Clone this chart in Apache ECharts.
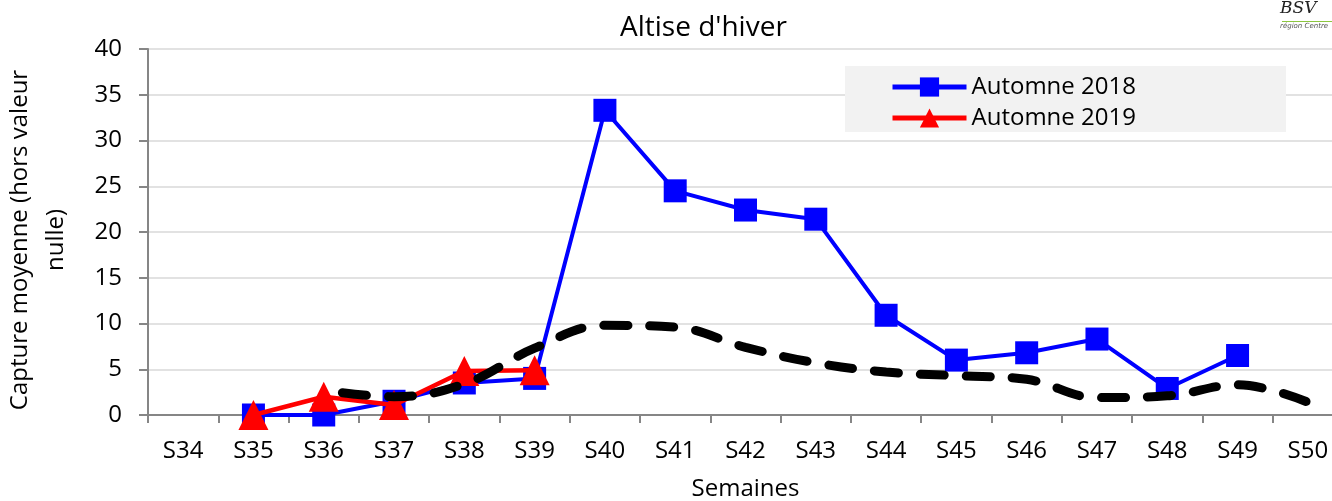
<!DOCTYPE html>
<html>
<head>
<meta charset="utf-8">
<script src="https://cdn.jsdelivr.net/npm/echarts@6/dist/echarts.min.js"></script>
<style>
html,body{margin:0;padding:0;background:#fff;}
#chart{width:1332px;height:501px;}
</style>
</head>
<body>
<div id="chart"></div>
<script>
const categories = ['S34','S35','S36','S37','S38','S39','S40','S41','S42','S43','S44','S45','S46','S47','S48','S49','S50'];
const automne2018 = [null, 0, 0, 1.5, 3.5, 4.0, 33.3, 24.5, 22.4, 21.4, 10.9, 6.0, 6.8, 8.3, 2.9, 6.5, null];
const automne2019 = [null, 0, 2.0, 1.1, 4.8, 4.9, null, null, null, null, null, null, null, null, null, null, null];
const moyenne = [null, null, 2.7, 2.0, 3.4, 7.3, 9.8, 9.6, 7.4, 5.7, 4.7, 4.3, 3.9, 1.9, 2.1, 3.3, 1.4];
const yTicks = {min: 0, max: 40, interval: 5};

const FONT = 'Open Sans';
const chart = echarts.init(document.getElementById('chart'));
chart.setOption({
  animation: false,
  backgroundColor: '#ffffff',
  textStyle: {fontFamily: FONT, color: '#000'},
  title: {
    text: "Altise d'hiver",
    left: 615, top: 9,
    textStyle: {fontFamily: FONT, fontSize: 28, fontWeight: 'normal', color: '#000'}
  },
  graphic: [
    {type: 'rect', z: 1, shape: {x: 845, y: 66, width: 441, height: 66}, style: {fill: '#f2f2f2'}},
    {type: 'text', z: 1, x: 38, y: 240, rotation: Math.PI / 2,
     style: {text: 'Capture moyenne (hors valeur\nnulle)', font: '24px "Open Sans"', fill: '#000',
             align: 'center', verticalAlign: 'middle', lineHeight: 36}},
    {type: 'text', z: 1, x: 1280, y: 0,
     style: {text: 'BSV', font: 'italic 17px "DejaVu Serif"', fill: '#222'}},
    {type: 'rect', z: 1, shape: {x: 1282, y: 21, width: 50, height: 1}, style: {fill: '#8cc63f'}},
    {type: 'text', z: 1, x: 1280, y: 23,
     style: {text: 'région Centre', font: 'italic 7px "DejaVu Sans"', fill: '#555'}}
  ],
  legend: {
    orient: 'vertical',
    left: 885, top: 69,
    itemWidth: 74, itemHeight: 24,
    itemGap: 5,
    data: ['Automne 2018', 'Automne 2019'],
    lineStyle: {width: 5},
    textStyle: {fontFamily: FONT, fontSize: 24, color: '#000', lineHeight: 26}
  },
  grid: {left: 148, top: 49, width: 1195, bottom: 86, containLabel: false, outerBoundsMode: 'none'},
  xAxis: {
    type: 'category',
    data: categories,
    boundaryGap: true,
    name: 'Semaines',
    nameLocation: 'middle',
    nameGap: 62,
    nameTextStyle: {fontFamily: FONT, fontSize: 24, color: '#000'},
    axisLine: {lineStyle: {color: '#868686', width: 2}},
    axisTick: {show: true, length: 8, lineStyle: {color: '#868686', width: 2}},
    axisLabel: {fontFamily: FONT, fontSize: 24, color: '#000', margin: 24, interval: 0}
  },
  yAxis: {
    type: 'value',
    min: yTicks.min, max: yTicks.max, interval: yTicks.interval,
    axisLine: {show: true, lineStyle: {color: '#868686', width: 2}},
    axisTick: {show: true, length: 9, lineStyle: {color: '#868686', width: 2}},
    axisLabel: {fontFamily: FONT, fontSize: 24, color: '#000', margin: 26},
    splitLine: {lineStyle: {color: '#d9d9d9', width: 1.5}}
  },
  series: [
    {
      name: 'Automne 2018', type: 'line', data: automne2018, z: 2,
      symbol: 'rect', symbolSize: 23,
      lineStyle: {color: '#0000ff', width: 4},
      itemStyle: {color: '#0000ff'},
      connectNulls: false
    },
    {
      name: 'Automne 2019', type: 'line', data: automne2019, z: 3,
      symbol: 'triangle', symbolSize: [30, 30],
      lineStyle: {color: '#ff0000', width: 4.5},
      itemStyle: {color: '#ff0000'}
    },
    {
      name: 'Moyenne', type: 'line', data: moyenne, z: 4,
      smooth: 0.4, showSymbol: false, symbol: 'none',
      lineStyle: {color: '#000000', width: 9, type: [24, 22], dashOffset: 27, cap: 'round'}
    }
  ]
});
</script>
</body>
</html>
